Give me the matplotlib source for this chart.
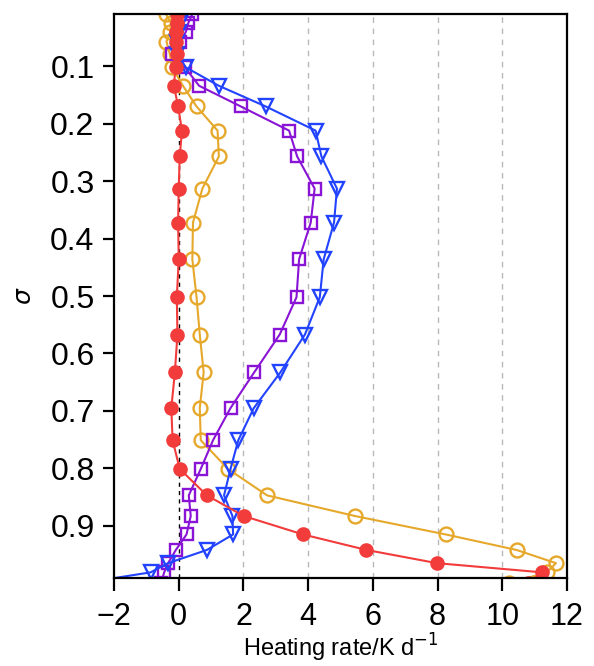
import matplotlib.pyplot as plt

# sigma levels
sigma = [0.009, 0.024, 0.040, 0.057, 0.078, 0.102, 0.134, 0.170, 0.212, 0.257,
         0.313, 0.372, 0.436, 0.502, 0.567, 0.633, 0.695, 0.751, 0.801, 0.847,
         0.883, 0.915, 0.942, 0.965, 0.981, 1.000]

# heating rates, K/day
red = [-0.05, -0.05, -0.08, -0.10, -0.05, -0.10, -0.15, -0.02, 0.10, 0.03,
       0.00, -0.02, 0.00, -0.06, -0.04, -0.12, -0.23, -0.19, 0.03, 0.87,
       2.01, 3.84, 5.80, 7.98, 11.23, 10.8]
orange = [-0.40, -0.25, -0.26, -0.38, -0.28, -0.20, 0.13, 0.55, 1.20, 1.24,
          0.73, 0.44, 0.42, 0.55, 0.65, 0.77, 0.65, 0.68, 1.52, 2.73,
          5.45, 8.25, 10.44, 11.66, 11.38, 10.2]
purple = [0.42, 0.30, 0.22, 0.05, -0.20, 0.19, 0.63, 1.92, 3.41, 3.66,
          4.20, 4.08, 3.72, 3.64, 3.12, 2.33, 1.60, 1.06, 0.68, 0.31,
          0.37, 0.24, -0.09, -0.33, -0.45, -0.55]
blue = [0.00, 0.05, 0.00, -0.05, -0.05, 0.22, 1.24, 2.69, 4.23, 4.41,
        4.89, 4.80, 4.48, 4.36, 3.90, 3.14, 2.32, 1.84, 1.60, 1.40,
        1.66, 1.68, 0.87, -0.33, -0.87, -3.0]

xticks = [-2, 0, 2, 4, 6, 8, 10, 12]
yticks = [0.1, 0.2, 0.3, 0.4, 0.5, 0.6, 0.7, 0.8, 0.9]

plt.rcParams['font.family'] = ['Liberation Sans', 'DejaVu Sans']

fig = plt.figure(figsize=(5.94, 6.66), dpi=100)
ax = fig.add_axes([0.192, 0.132, 0.7625, 0.847])

for gx in [2, 4, 6, 8, 10]:
    ax.axvline(gx, color='#b8b8b8', ls=(0, (4, 4)), lw=1.0, zorder=0)
ax.axvline(0, color='black', ls=(0, (3, 3)), lw=1.0, zorder=0)

ax.plot(orange, sigma, '-o', color='#e6a82b', mfc='none', mec='#e6a82b',
        ms=10, mew=1.7, lw=1.5)
ax.plot(purple, sigma, '-s', color='#8a14d6', mfc='none', mec='#8a14d6',
        ms=9, mew=1.7, lw=1.5)
ax.plot(blue, sigma, '-v', color='#2243ff', mfc='none', mec='#2243ff',
        ms=10, mew=1.7, lw=1.5)
ax.plot(red, sigma, '-o', color='#f23b3b', mec='#f23b3b',
        ms=9.5, lw=1.5)

ax.set_xlim(-2, 12)
ax.set_ylim(0.991, 0.009)
ax.set_xticks(xticks)
ax.set_yticks(yticks)
ax.set_yticklabels(['%.1f' % v for v in yticks])

for s in ax.spines.values():
    s.set_linewidth(1.6)
ax.tick_params(axis='both', direction='out', width=1.6, labelsize=23)
ax.tick_params(axis='x', labelsize=22)
ax.tick_params(axis='y', length=8, pad=6)
ax.tick_params(axis='x', length=9, pad=8)

ax.set_xlabel('Heating rate/K d$^{\\mathrm{-1}}$', fontsize=17, labelpad=0)
ax.set_ylabel(r'$\sigma$', fontsize=18, labelpad=10)

fig.savefig('out.png', dpi=100)
